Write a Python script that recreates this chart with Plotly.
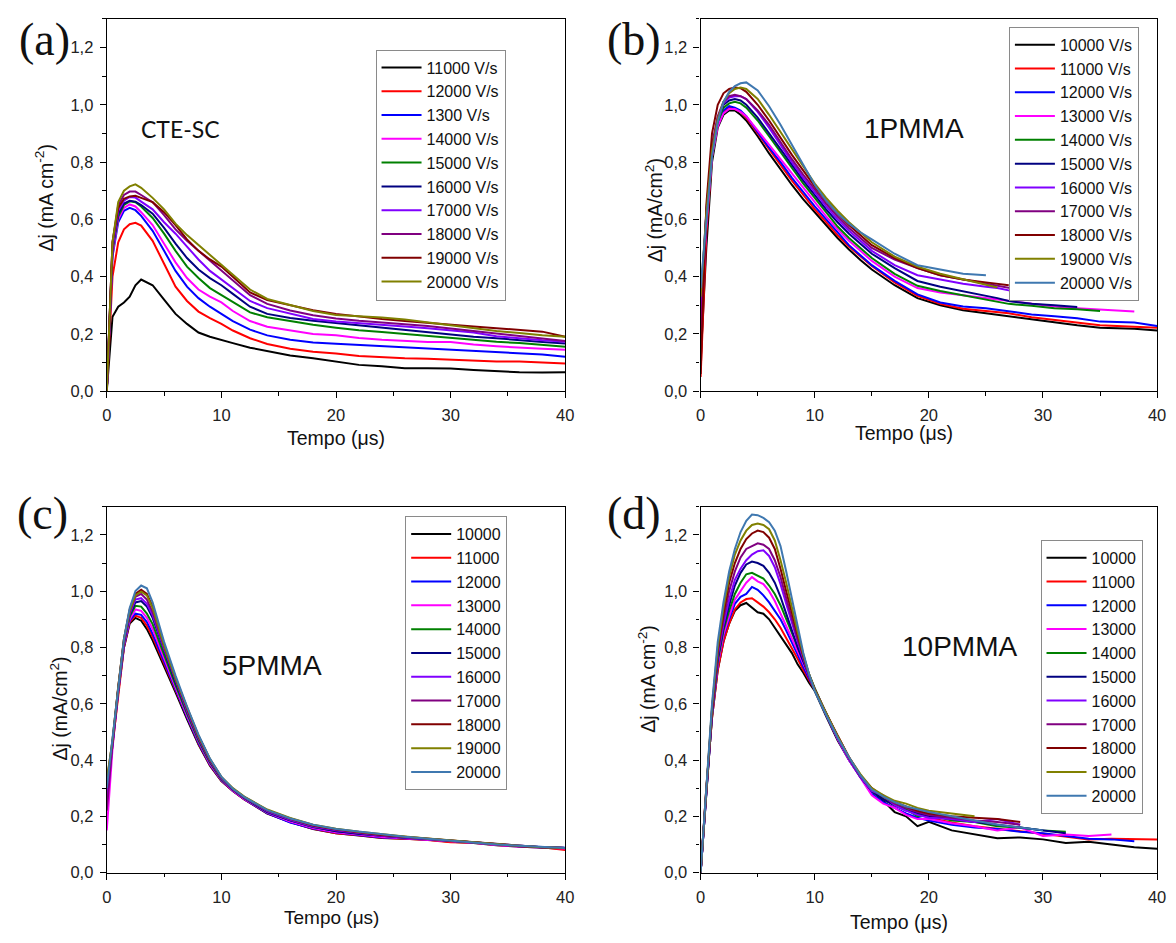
import plotly.graph_objects as go

W, H = 1176, 943

COLORS = ['#000000', '#FF0000', '#0000FF', '#FF00FF', '#008000', '#000080',
          '#8000FF', '#800080', '#800000', '#808000', '#3F78B0']

# ---------------- Panel (a) CTE-SC ----------------
T_A = [0, 0.5, 1, 1.5, 2, 2.5, 3, 4, 5, 6, 7, 8, 9, 10, 11, 12.5, 14, 16, 18, 20,
       22, 24, 26, 28, 30, 32, 34, 36, 38, 40]
LABELS_A = ['11000 V/s', '12000 V/s', '1300 V/s', '14000 V/s', '15000 V/s', '16000 V/s',
            '17000 V/s', '18000 V/s', '19000 V/s', '20000 V/s']
A_11000 = [0.0, 0.26, 0.295, 0.31, 0.33, 0.37, 0.39, 0.37, 0.32, 0.27, 0.235, 0.205, 0.19, 0.178, 0.168,
           0.152, 0.14, 0.125, 0.115, 0.104, 0.092, 0.087, 0.08, 0.08, 0.079, 0.074, 0.07, 0.066, 0.065, 0.066]
A_12000 = [0.0, 0.40, 0.52, 0.565, 0.583, 0.588, 0.578, 0.525, 0.445, 0.365, 0.315, 0.278, 0.255, 0.235, 0.212,
           0.185, 0.165, 0.148, 0.138, 0.132, 0.123, 0.118, 0.115, 0.113, 0.11, 0.107, 0.104, 0.104, 0.1, 0.097]
A_13000 = [0.0, 0.47, 0.59, 0.63, 0.64, 0.632, 0.612, 0.56, 0.49, 0.42, 0.365, 0.325, 0.295, 0.27, 0.245,
           0.215, 0.195, 0.18, 0.17, 0.166, 0.162, 0.157, 0.152, 0.148, 0.144, 0.14, 0.136, 0.133, 0.128, 0.12]
A_14000 = [0.0, 0.48, 0.6, 0.64, 0.652, 0.645, 0.625, 0.58, 0.515, 0.45, 0.395, 0.355, 0.33, 0.31, 0.28,
           0.245, 0.225, 0.212, 0.2, 0.195, 0.186, 0.18, 0.176, 0.172, 0.172, 0.163, 0.157, 0.152, 0.148, 0.145]
A_15000 = [0.0, 0.49, 0.61, 0.65, 0.663, 0.66, 0.645, 0.605, 0.55, 0.49, 0.435, 0.395, 0.36, 0.335, 0.31,
           0.275, 0.258, 0.245, 0.232, 0.222, 0.213, 0.207, 0.2, 0.193, 0.188, 0.18, 0.173, 0.168, 0.162, 0.155]
A_16000 = [0.0, 0.5, 0.62, 0.655, 0.665, 0.662, 0.65, 0.62, 0.57, 0.515, 0.465, 0.425, 0.395, 0.37, 0.34,
           0.295, 0.27, 0.256, 0.246, 0.238, 0.23, 0.222, 0.214, 0.206, 0.2, 0.19, 0.185, 0.178, 0.172, 0.167]
A_17000 = [0.0, 0.5, 0.63, 0.665, 0.678, 0.676, 0.662, 0.635, 0.59, 0.55, 0.505, 0.46, 0.42, 0.39, 0.36,
           0.315, 0.29, 0.27, 0.252, 0.243, 0.238, 0.232, 0.226, 0.22, 0.213, 0.205, 0.192, 0.184, 0.178, 0.173]
A_18000 = [0.0, 0.52, 0.65, 0.685, 0.697, 0.697, 0.685, 0.66, 0.615, 0.565, 0.525, 0.49, 0.455, 0.42, 0.385,
           0.335, 0.305, 0.282, 0.265, 0.254, 0.246, 0.24, 0.236, 0.228, 0.219, 0.21, 0.2, 0.192, 0.182, 0.175]
A_19000 = [0.0, 0.52, 0.64, 0.672, 0.68, 0.682, 0.675, 0.66, 0.625, 0.58, 0.53, 0.49, 0.46, 0.435, 0.4,
           0.345, 0.318, 0.3, 0.283, 0.27, 0.26, 0.252, 0.245, 0.238, 0.232, 0.226, 0.22, 0.215, 0.208, 0.19]
A_20000 = [0.0, 0.52, 0.66, 0.7, 0.715, 0.722, 0.71, 0.675, 0.635, 0.585, 0.545, 0.51, 0.475, 0.44, 0.405,
           0.355, 0.322, 0.3, 0.28, 0.266, 0.262, 0.257, 0.25, 0.24, 0.23, 0.22, 0.21, 0.203, 0.195, 0.19]
SERIES_A = [A_11000, A_12000, A_13000, A_14000, A_15000, A_16000, A_17000, A_18000, A_19000, A_20000]
COLORS_A = COLORS[:10]

# ---------------- Panel (b) 1PMMA ----------------
T_B = [0, 0.5, 1, 1.5, 2, 2.5, 3, 3.5, 4, 5, 6, 7, 8, 9, 10, 11, 12, 13, 14, 15,
       17, 19, 21, 23, 25, 26, 27, 29, 31, 33, 35, 38, 40]
LABELS_B = ['10000 V/s', '11000 V/s', '12000 V/s', '13000 V/s', '14000 V/s', '15000 V/s',
            '16000 V/s', '17000 V/s', '18000 V/s', '19000 V/s', '20000 V/s']
B_10000 = [0.1, 0.5, 0.8, 0.92, 0.965, 0.98, 0.98, 0.965, 0.945, 0.89, 0.83, 0.775, 0.72, 0.67, 0.625, 0.58,
           0.535, 0.495, 0.458, 0.425, 0.37, 0.325, 0.3, 0.283, 0.272, 0.268, 0.262, 0.25, 0.24, 0.23, 0.222,
           0.218, 0.212]
B_11000 = [0.05, 0.55, 0.82, 0.93, 0.975, 0.99, 0.985, 0.975, 0.955, 0.9, 0.845, 0.79, 0.735, 0.685, 0.635, 0.59,
           0.545, 0.505, 0.47, 0.437, 0.38, 0.333, 0.305, 0.288, 0.28, 0.276, 0.272, 0.258, 0.248, 0.238, 0.23,
           0.225, 0.222]
B_12000 = [0.25, 0.6, 0.83, 0.935, 0.98, 0.995, 0.99, 0.98, 0.96, 0.905, 0.85, 0.8, 0.745, 0.695, 0.645, 0.6,
           0.555, 0.51, 0.475, 0.44, 0.385, 0.338, 0.31, 0.296, 0.29, 0.285, 0.28, 0.268, 0.262, 0.255, 0.243,
           0.24, 0.228]
B_13000 = [0.2, 0.58, 0.82, 0.925, 0.97, 0.985, 0.985, 0.975, 0.96, 0.91, 0.86, 0.81, 0.76, 0.71, 0.66, 0.61,
           0.565, 0.525, 0.49, 0.455, 0.4, 0.36, 0.345, 0.335, 0.325, 0.32, 0.315, 0.305, 0.296, 0.29, 0.285,
           0.278, None]
B_14000 = [0.3, 0.62, 0.84, 0.94, 0.99, 1.005, 1.01, 1.005, 0.99, 0.945, 0.89, 0.835, 0.78, 0.725, 0.675, 0.625,
           0.575, 0.535, 0.5, 0.465, 0.41, 0.368, 0.35, 0.335, 0.32, 0.31, 0.305, 0.298, 0.29, 0.286, 0.28,
           None, None]
B_15000 = [0.25, 0.62, 0.85, 0.95, 1.0, 1.015, 1.02, 1.015, 1.0, 0.955, 0.9, 0.845, 0.79, 0.735, 0.685, 0.635,
           0.59, 0.55, 0.515, 0.48, 0.43, 0.385, 0.365, 0.35, 0.335, 0.325, 0.315, 0.305, 0.3, 0.294, None,
           None, None]
B_16000 = [0.3, 0.63, 0.85, 0.955, 1.005, 1.025, 1.03, 1.03, 1.02, 0.975, 0.92, 0.86, 0.8, 0.745, 0.695, 0.645,
           0.6, 0.56, 0.525, 0.49, 0.44, 0.405, 0.39, 0.375, 0.365, 0.36, 0.352, 0.335, 0.318, None, None,
           None, None]
B_17000 = [0.2, 0.6, 0.86, 0.96, 1.01, 1.03, 1.035, 1.03, 1.02, 0.98, 0.93, 0.87, 0.81, 0.755, 0.705, 0.655,
           0.61, 0.57, 0.535, 0.5, 0.46, 0.43, 0.405, 0.39, 0.375, 0.37, 0.362, 0.346, None, None, None,
           None, None]
B_18000 = [0.06, 0.65, 0.9, 1.0, 1.04, 1.055, 1.06, 1.058, 1.045, 1.0, 0.945, 0.885, 0.825, 0.77, 0.715, 0.665,
           0.62, 0.58, 0.545, 0.51, 0.465, 0.43, 0.405, 0.39, 0.38, 0.375, 0.37, None, None, None, None,
           None, None]
B_19000 = [0.33, 0.62, 0.84, 0.95, 1.01, 1.04, 1.055, 1.06, 1.055, 1.02, 0.965, 0.905, 0.845, 0.785, 0.725, 0.675,
           0.63, 0.59, 0.555, 0.52, 0.47, 0.435, 0.41, 0.39, 0.37, 0.362, None, None, None, None, None,
           None, None]
B_20000 = [0.36, 0.6, 0.82, 0.94, 1.01, 1.045, 1.065, 1.075, 1.078, 1.05, 0.995, 0.93, 0.86, 0.785, 0.72, 0.665,
           0.62, 0.585, 0.555, 0.53, 0.48, 0.44, 0.425, 0.41, 0.405, None, None, None, None, None, None,
           None, None]
SERIES_B = [B_10000, B_11000, B_12000, B_13000, B_14000, B_15000, B_16000, B_17000, B_18000, B_19000, B_20000]

# ---------------- Panel (c) 5PMMA ----------------
T_C = [0, 0.5, 1, 1.5, 2, 2.5, 3, 3.5, 4, 5, 6, 7, 8, 9, 10, 11, 12, 14, 16, 18, 20,
       22, 24, 26, 28, 30, 32, 34, 36, 38, 40]
LABELS_C = ['10000', '11000', '12000', '13000', '14000', '15000', '16000', '17000', '18000', '19000', '20000']
C_10000 = [0.30, 0.45, 0.64, 0.80, 0.885, 0.905, 0.895, 0.865, 0.825, 0.735, 0.64, 0.545, 0.455, 0.38, 0.325,
           0.29, 0.26, 0.21, 0.18, 0.155, 0.14, 0.132, 0.123, 0.12, 0.117, 0.11, 0.105, 0.097, 0.092, 0.088, 0.085]
C_11000 = [0.28, 0.45, 0.64, 0.80, 0.89, 0.913, 0.905, 0.877, 0.838, 0.743, 0.645, 0.55, 0.458, 0.382, 0.326,
           0.29, 0.26, 0.211, 0.18, 0.156, 0.14, 0.133, 0.124, 0.12, 0.116, 0.108, 0.106, 0.098, 0.093, 0.09, 0.08]
C_12000 = [0.3, 0.46, 0.645, 0.805, 0.895, 0.92, 0.916, 0.89, 0.848, 0.749, 0.65, 0.553, 0.461, 0.384, 0.328,
           0.291, 0.261, 0.211, 0.178, 0.157, 0.142, 0.134, 0.125, 0.122, 0.118, 0.112, 0.107, 0.099, 0.094, 0.09, 0.088]
C_13000 = [0.15, 0.44, 0.645, 0.81, 0.9, 0.935, 0.93, 0.905, 0.865, 0.76, 0.658, 0.558, 0.466, 0.387, 0.33,
           0.292, 0.262, 0.213, 0.181, 0.158, 0.143, 0.135, 0.126, 0.122, 0.117, 0.111, 0.106, 0.098, 0.092, 0.089, 0.086]
C_14000 = [0.3, 0.46, 0.65, 0.815, 0.91, 0.948, 0.945, 0.92, 0.883, 0.772, 0.666, 0.565, 0.47, 0.391, 0.331,
           0.294, 0.264, 0.215, 0.186, 0.162, 0.148, 0.138, 0.13, 0.124, 0.119, 0.112, 0.108, 0.1, 0.094, 0.09, 0.087]
C_15000 = [0.3, 0.46, 0.65, 0.82, 0.915, 0.96, 0.965, 0.945, 0.905, 0.79, 0.677, 0.573, 0.476, 0.395, 0.334,
           0.295, 0.265, 0.216, 0.186, 0.163, 0.147, 0.138, 0.13, 0.124, 0.119, 0.113, 0.107, 0.1, 0.094, 0.09, 0.087]
C_16000 = [0.25, 0.46, 0.655, 0.82, 0.92, 0.97, 0.975, 0.955, 0.915, 0.796, 0.682, 0.575, 0.478, 0.397, 0.335,
           0.296, 0.266, 0.218, 0.188, 0.164, 0.15, 0.14, 0.131, 0.125, 0.12, 0.113, 0.107, 0.1, 0.094, 0.09, 0.087]
C_17000 = [0.22, 0.46, 0.655, 0.825, 0.925, 0.98, 0.99, 0.97, 0.925, 0.802, 0.688, 0.58, 0.481, 0.399, 0.337,
           0.297, 0.267, 0.22, 0.19, 0.166, 0.152, 0.142, 0.132, 0.126, 0.12, 0.113, 0.107, 0.1, 0.094, 0.09, 0.087]
C_18000 = [0.32, 0.47, 0.66, 0.83, 0.935, 0.99, 1.005, 0.99, 0.945, 0.81, 0.693, 0.585, 0.486, 0.402, 0.339,
           0.298, 0.268, 0.222, 0.192, 0.168, 0.154, 0.144, 0.134, 0.127, 0.12, 0.113, 0.107, 0.1, 0.094, 0.09, 0.087]
C_19000 = [0.33, 0.47, 0.66, 0.83, 0.93, 0.985, 0.998, 0.985, 0.94, 0.806, 0.69, 0.585, 0.486, 0.404, 0.34,
           0.3, 0.27, 0.224, 0.194, 0.17, 0.156, 0.145, 0.136, 0.128, 0.121, 0.114, 0.108, 0.1, 0.095, 0.09, 0.087]
C_20000 = [0.30, 0.47, 0.66, 0.83, 0.94, 1.0, 1.02, 1.01, 0.96, 0.82, 0.70, 0.59, 0.49, 0.405, 0.34,
           0.298, 0.268, 0.222, 0.192, 0.17, 0.155, 0.145, 0.135, 0.127, 0.12, 0.113, 0.107, 0.1, 0.095, 0.09, 0.087]
SERIES_C = [C_10000, C_11000, C_12000, C_13000, C_14000, C_15000, C_16000, C_17000, C_18000, C_19000, C_20000]

# ---------------- Panel (d) 10PMMA ----------------
T_D = [0, 0.5, 1, 1.5, 2, 2.5, 3, 3.5, 4, 4.5, 5, 5.5, 6, 6.5, 7, 7.5, 8, 8.5, 9, 9.5, 10,
       11, 12, 13, 14, 15, 16, 17, 18, 19, 20, 22, 24, 26, 28, 30, 32, 34, 36, 38, 40]
LABELS_D = LABELS_C
D_10000 = [0.0, 0.3, 0.55, 0.72, 0.82, 0.885, 0.93, 0.95, 0.958, 0.94, 0.925, 0.92, 0.9, 0.87, 0.84, 0.81, 0.78,
           0.74, 0.71, 0.675, 0.645, 0.555, 0.47, 0.4, 0.34, 0.29, 0.255, 0.215, 0.2, 0.165, 0.18,
           0.15, 0.135, 0.122, 0.125, 0.118, 0.105, 0.11, 0.1, 0.09, 0.085]
D_11000 = [0.0, 0.3, 0.55, 0.72, 0.82, 0.885, 0.935, 0.96, 0.972, 0.975, 0.96, 0.945, 0.925, 0.9, 0.87, 0.835, 0.8,
           0.76, 0.72, 0.685, 0.65, 0.56, 0.475, 0.405, 0.345, 0.295, 0.262, 0.238, 0.225, 0.21, 0.195,
           0.178, 0.165, 0.155, 0.147, 0.138, 0.128, 0.118, 0.12, 0.12, 0.118]
D_12000 = [0.0, 0.3, 0.56, 0.74, 0.84, 0.9, 0.955, 0.98, 0.99, 1.015, 1.005, 0.985, 0.96, 0.93, 0.9, 0.86, 0.82,
           0.775, 0.73, 0.69, 0.65, 0.56, 0.475, 0.4, 0.34, 0.28, 0.25, 0.23, 0.21, 0.195, 0.185,
           0.17, 0.16, 0.155, 0.145, 0.14, 0.13, 0.12, 0.118, 0.111, None]
D_13000 = [0.0, 0.3, 0.56, 0.74, 0.845, 0.91, 0.97, 1.0, 1.03, 1.05, 1.035, 1.025, 1.0, 0.965, 0.92, 0.875, 0.83,
           0.785, 0.74, 0.695, 0.65, 0.56, 0.475, 0.4, 0.335, 0.275, 0.245, 0.23, 0.205, 0.19, 0.19,
           0.175, 0.165, 0.15, 0.16, 0.13, 0.135, 0.13, 0.135, None, None]
D_14000 = [0.0, 0.3, 0.56, 0.75, 0.86, 0.93, 0.99, 1.03, 1.06, 1.065, 1.055, 1.045, 1.02, 0.99, 0.95, 0.9, 0.85,
           0.8, 0.75, 0.7, 0.655, 0.565, 0.48, 0.405, 0.34, 0.29, 0.26, 0.24, 0.225, 0.2, 0.205,
           0.185, 0.18, 0.165, 0.16, 0.15, 0.145, None, None, None, None]
D_15000 = [0.0, 0.3, 0.57, 0.76, 0.87, 0.95, 1.02, 1.065, 1.095, 1.105, 1.1, 1.09, 1.065, 1.03, 0.98, 0.92, 0.86,
           0.8, 0.75, 0.7, 0.65, 0.565, 0.48, 0.405, 0.34, 0.29, 0.26, 0.24, 0.22, 0.21, 0.2,
           0.19, 0.18, 0.17, 0.16, 0.15, 0.14, None, None, None, None]
D_16000 = [0.0, 0.3, 0.57, 0.77, 0.88, 0.97, 1.04, 1.08, 1.11, 1.13, 1.142, 1.145, 1.125, 1.085, 1.025, 0.955, 0.885,
           0.82, 0.76, 0.7, 0.65, 0.565, 0.48, 0.405, 0.34, 0.29, 0.275, 0.24, 0.22, 0.205, 0.195,
           0.19, 0.18, 0.19, 0.17, None, None, None, None, None, None]
D_17000 = [0.0, 0.3, 0.58, 0.78, 0.9, 1.0, 1.07, 1.12, 1.15, 1.16, 1.17, 1.165, 1.15, 1.11, 1.05, 0.975, 0.9,
           0.83, 0.765, 0.7, 0.65, 0.565, 0.485, 0.41, 0.345, 0.295, 0.27, 0.245, 0.23, 0.215, 0.205,
           0.195, 0.185, 0.18, 0.17, None, None, None, None, None, None]
D_18000 = [0.0, 0.3, 0.58, 0.79, 0.92, 1.03, 1.1, 1.15, 1.185, 1.205, 1.215, 1.21, 1.19, 1.15, 1.08, 1.0, 0.92,
           0.84, 0.77, 0.705, 0.65, 0.565, 0.485, 0.41, 0.345, 0.3, 0.27, 0.25, 0.235, 0.22, 0.21,
           0.2, 0.195, 0.19, 0.18, None, None, None, None, None, None]
D_19000 = [0.0, 0.3, 0.59, 0.8, 0.94, 1.05, 1.13, 1.18, 1.215, 1.235, 1.24, 1.235, 1.22, 1.18, 1.11, 1.03, 0.94,
           0.855, 0.775, 0.705, 0.65, 0.565, 0.485, 0.41, 0.35, 0.3, 0.275, 0.255, 0.245, 0.23, 0.22,
           0.21, 0.2, None, None, None, None, None, None, None, None]
D_20000 = [0.0, 0.3, 0.6, 0.82, 0.96, 1.07, 1.15, 1.21, 1.25, 1.272, 1.27, 1.26, 1.245, 1.215, 1.16, 1.07, 0.97,
           0.87, 0.78, 0.705, 0.645, 0.56, 0.48, 0.41, 0.345, 0.295, 0.27, 0.25, 0.235, 0.225, 0.215,
           0.2, 0.185, 0.17, 0.16, 0.15, None, None, None, None, None]
SERIES_D = [D_10000, D_11000, D_12000, D_13000, D_14000, D_15000, D_16000, D_17000, D_18000, D_19000, D_20000]

# ---------------- Figure ----------------
fig = go.Figure()

def px_x(p):
    return p / W

def px_y(p):
    return 1 - p / H

panels = [
    ('x', 'y', 'legend', T_A, SERIES_A, LABELS_A, COLORS_A),
    ('x2', 'y2', 'legend2', T_B, SERIES_B, LABELS_B, COLORS),
    ('x3', 'y3', 'legend3', T_C, SERIES_C, LABELS_C, COLORS),
    ('x4', 'y4', 'legend4', T_D, SERIES_D, LABELS_D, COLORS),
]
for xa, ya, lg, T, SER, LAB, COL in panels:
    for vals, lab, col in zip(SER, LAB, COL):
        fig.add_trace(go.Scatter(x=T, y=vals, mode='lines', name=lab,
                                 line=dict(color=col, width=2),
                                 xaxis=xa, yaxis=ya, legend=lg,
                                 connectgaps=False, hoverinfo='skip'))

FONT = 'Arial, Liberation Sans, sans-serif'
axis_common = dict(showline=True, linecolor='black', linewidth=1.3, mirror=True,
                   ticks='outside', ticklen=6, tickwidth=1.2, tickcolor='black',
                   showgrid=False, zeroline=False, ticklabelstandoff=3,
                   tickfont=dict(family=FONT, size=16.5, color='#222'))

def xax(dom, anchor):
    return dict(domain=dom, anchor=anchor, range=[0, 40], tickmode='linear', tick0=0, dtick=10,
                minor=dict(ticks='outside', dtick=5, ticklen=3.5, tickwidth=1.2, tickcolor='black',
                           showgrid=False), **axis_common)

def yax(dom, anchor):
    return dict(domain=dom, anchor=anchor, range=[0, 1.3], tickmode='linear', tick0=0, dtick=0.2,
                tickformat='.1f',
                minor=dict(ticks='outside', dtick=0.1, ticklen=3.5, tickwidth=1.2, tickcolor='black',
                           showgrid=False), **axis_common)

XL = [px_x(103), px_x(567)]
XR = [px_x(704), px_x(1166)]
YT = [px_y(395), px_y(19)]
YB = [px_y(881), px_y(511.6)]

legend_common = dict(xanchor='left', yanchor='top', bgcolor='white', bordercolor='#8a8a8a',
                     borderwidth=1, font=dict(family=FONT, size=16, color='#111'),
                     itemwidth=40, tracegroupgap=0, traceorder='normal')

fig.update_layout(
    width=W, height=H,
    margin=dict(l=0, r=0, t=0, b=0),
    paper_bgcolor='white', plot_bgcolor='white',
    separators=',.',
    font=dict(family=FONT, color='black'),
    xaxis=xax(XL, 'y'), yaxis=yax(YT, 'x'),
    xaxis2=xax(XR, 'y2'), yaxis2=yax(YT, 'x2'),
    xaxis3=xax(XL, 'y3'), yaxis3=yax(YB, 'x3'),
    xaxis4=xax(XR, 'y4'), yaxis4=yax(YB, 'x4'),
    legend=dict(x=px_x(375), y=px_y(50), **legend_common),
    legend2=dict(x=px_x(1016), y=px_y(27), **legend_common),
    legend3=dict(x=px_x(405), y=px_y(521), **legend_common),
    legend4=dict(x=px_x(1048), y=px_y(545), **legend_common),
    showlegend=True,
)

ann = []

def add_text(text, x, y, size, family=FONT, angle=0, color='#111'):
    ann.append(dict(text=text, x=px_x(x), y=px_y(y), xref='paper', yref='paper',
                    xanchor='center', yanchor='middle', showarrow=False, textangle=angle,
                    font=dict(family=family, size=size, color=color)))

SERIF = 'Liberation Serif, Times New Roman, serif'
add_text('(a)', 40, 40, 46, SERIF)
add_text('(b)', 637, 40, 46, SERIF)
add_text('(c)', 38, 518, 46, SERIF)
add_text('(d)', 637, 518, 46, SERIF)

add_text('CTE-SC', 178, 130, 23, 'Lato, Open Sans, sans-serif')
add_text('1PMMA', 920, 130, 28)
add_text('5PMMA', 270, 672, 28)
add_text('10PMMA', 966, 653, 28)

add_text('Tempo (μs)', 335, 442, 19.5)
add_text('Tempo (μs)', 910, 437, 19.5)
add_text('Tempo (μs)', 330, 926, 19)
add_text('Tempo (μs)', 905, 931, 19.5)

add_text('Δj (mA cm<sup>-2</sup>)', 40, 200, 19.5, angle=-90)
add_text('Δj (mA/cm<sup>2</sup>)', 657, 212, 19.5, angle=-90)
add_text('Δj (mA/cm<sup>2</sup>)', 55, 715, 19.5, angle=-90)
add_text('Δj (mA cm<sup>-2</sup>)', 650, 685, 19.5, angle=-90)

fig.update_layout(annotations=ann)

fig.write_html('out.html')
